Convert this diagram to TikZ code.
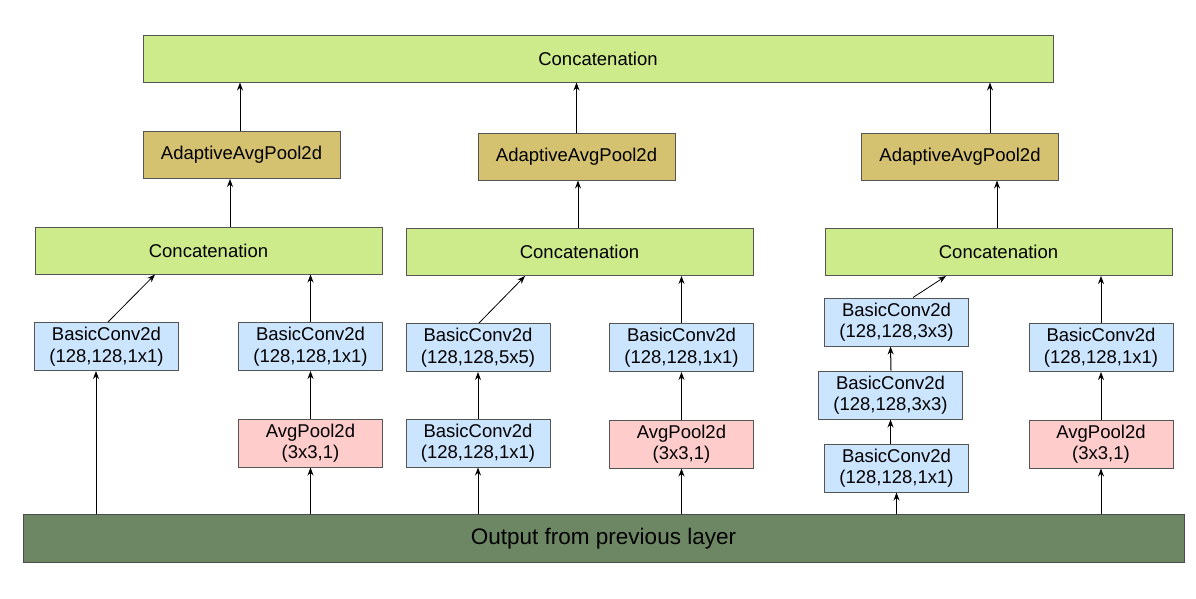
\documentclass[tikz,border=0pt]{standalone}
\usepackage{fontspec}
\setmainfont{Liberation Sans}
\usetikzlibrary{arrows.meta,positioning}

\definecolor{concatgreen}{HTML}{CDEB8B}
\definecolor{adaptgold}{HTML}{D5C271}
\definecolor{convblue}{HTML}{CCE5FF}
\definecolor{poolred}{HTML}{FFCCCC}
\definecolor{outgreen}{HTML}{6D8764}
\definecolor{boxline}{HTML}{555555}

\begin{document}
\begin{tikzpicture}[x=1pt,y=-1pt,
  box/.style={draw=boxline,line width=1pt,align=center,inner sep=0pt,
    font=\fontsize{18.5}{21.5}\selectfont},
  concat/.style={box,fill=concatgreen,minimum width=347pt,minimum height=47pt},
  adapt/.style={box,fill=adaptgold,minimum width=197pt,minimum height=47pt},
  conv/.style={box,fill=convblue,minimum width=144pt,minimum height=48pt},
  pool/.style={box,fill=poolred,minimum width=144pt,minimum height=48pt},
  arr/.style={->,>={Stealth[length=8pt,width=6pt]},line width=1pt},
  diag/.style={->,>={Stealth[length=8pt,width=6pt]},line width=0.8pt}]
  \useasboundingbox (0,0) rectangle (1196,598);

  % top and bottom
  \node[box,fill=concatgreen,minimum width=910pt,minimum height=47pt] (top) at (598,58.5) {Concatenation};
  \node[box,fill=outgreen,draw=black!70,minimum width=1161pt,minimum height=48pt,
    font=\fontsize{22.5}{27}\selectfont] (out) at (603.5,538.5) {Output from previous layer};

  % adaptive pooling
  \node[adapt] (adaptL) at (241.5,155) {AdaptiveAvgPool2d};
  \node[adapt] (adaptM) at (576.5,156.5) {AdaptiveAvgPool2d};
  \node[adapt] (adaptR) at (960,156.5) {AdaptiveAvgPool2d};

  % inner concatenations
  \node[concat] (catL) at (208.5,250.5) {Concatenation};
  \node[concat] (catM) at (579.5,252) {Concatenation};
  \node[concat] (catR) at (998.5,252) {Concatenation};

  % left branch
  \node[conv] (convLa) at (106.5,346.5) {BasicConv2d\\(128,128,1x1)};
  \node[conv] (convLb) at (310.5,346.5) {BasicConv2d\\(128,128,1x1)};
  \node[pool] (poolL) at (310.5,443) {AvgPool2d\\(3x3,1)};

  % middle branch
  \node[conv] (convMa) at (478,347.5) {BasicConv2d\\(128,128,5x5)};
  \node[conv] (convMb) at (478,443) {BasicConv2d\\(128,128,1x1)};
  \node[conv] (convMc) at (681.5,347.5) {BasicConv2d\\(128,128,1x1)};
  \node[pool] (poolM) at (681.5,444) {AvgPool2d\\(3x3,1)};

  % right branch
  \node[conv] (convRa) at (896.5,322) {BasicConv2d\\(128,128,3x3)};
  \node[conv] (convRb) at (890.5,395) {BasicConv2d\\(128,128,3x3)};
  \node[conv] (convRc) at (896.5,468) {BasicConv2d\\(128,128,1x1)};
  \node[conv] (convRd) at (1101,347.5) {BasicConv2d\\(128,128,1x1)};
  \node[pool] (poolR) at (1101,444) {AvgPool2d\\(3x3,1)};

  % adaptive -> top
  \draw[arr] ([xshift=-1.5pt]adaptL.north) -- ([xshift=-1.5pt]adaptL.north |- top.south);
  \draw[arr] (adaptM.north) -- (adaptM.north |- top.south);
  \draw[arr] ([xshift=30pt]adaptR.north) -- ([xshift=30pt]adaptR.north |- top.south);

  % concat -> adaptive
  \draw[arr] ([xshift=21.5pt]catL.north) -- ([xshift=21.5pt]catL.north |- adaptL.south);
  \draw[arr] ([xshift=-1.5pt]catM.north) -- ([xshift=-1.5pt]catM.north |- adaptM.south);
  \draw[arr] ([xshift=-1.5pt]catR.north) -- ([xshift=-1.5pt]catR.north |- adaptR.south);

  % left
  \draw[diag] ([xshift=1.5pt]convLa.north) -- ([xshift=-53.5pt]catL.south);
  \draw[arr] (convLb.north) -- (convLb.north |- catL.south);
  \draw[arr] (poolL.north) -- (convLb.south);
  \draw[arr] ([xshift=-10.5pt]out.north -| convLa.south) -- ([xshift=-10.5pt]convLa.south);
  \draw[arr] (out.north -| poolL.south) -- (poolL.south);

  % middle
  \draw[diag] ([xshift=1pt]convMa.north) -- ([xshift=-54.5pt]catM.south);
  \draw[arr] (convMb.north) -- (convMa.south);
  \draw[arr] (out.north -| convMb.south) -- (convMb.south);
  \draw[arr] (convMc.north) -- (convMc.north |- catM.south);
  \draw[arr] (poolM.north) -- (convMc.south);
  \draw[arr] (out.north -| poolM.south) -- (poolM.south);

  % right
  \draw[diag] ([xshift=16.5pt]convRa.north) -- ([xshift=-52.5pt]catR.south);
  \draw[arr] ([xshift=-5.5pt]convRb.north -| convRa.south) -- (convRb.north |- convRa.south);
  \draw[arr] (convRc.north -| convRb.north) -- (convRb.south);
  \draw[arr] (out.north -| convRc.south) -- (convRc.south);
  \draw[arr] (convRd.north) -- (convRd.north |- catR.south);
  \draw[arr] (poolR.north) -- (convRd.south);
  \draw[arr] (out.north -| poolR.south) -- (poolR.south);
\end{tikzpicture}
\end{document}
